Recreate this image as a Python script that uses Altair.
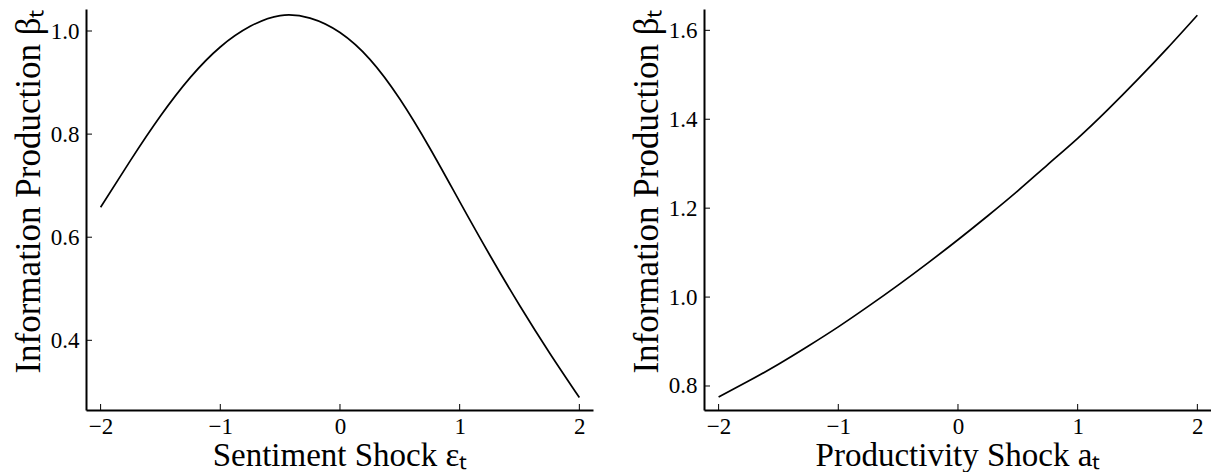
import altair as alt
import pandas as pd

# Shock grid (x values)
shock = [-2.0, -1.75, -1.5, -1.25, -1.0, -0.75, -0.5, -0.25, 0.0,
         0.25, 0.5, 0.75, 1.0, 1.25, 1.5, 1.75, 2.0]

# Left panel: information production vs sentiment shock
beta_sentiment = [0.658, 0.749, 0.835, 0.910, 0.969, 1.009, 1.030, 1.025, 0.997,
                  0.945, 0.868, 0.773, 0.669, 0.566, 0.468, 0.376, 0.289]

# Right panel: information production vs productivity shock
beta_productivity = [0.775, 0.811, 0.849, 0.890, 0.933, 0.979, 1.027, 1.077, 1.129,
                     1.183, 1.239, 1.298, 1.357, 1.421, 1.489, 1.560, 1.634]

x_ticks = [-2, -1, 0, 1, 2]
y_ticks_left = [0.4, 0.6, 0.8, 1.0]
y_ticks_right = [0.8, 1.0, 1.2, 1.4, 1.6]

W, H = 507, 401
FONT = "Liberation Serif"
Y_TITLE = "Information Production βₜ"


def panel(yvals, xtitle, ydomain, yticks):
    df = pd.DataFrame({"x": shock, "y": yvals})
    xs = alt.Scale(domain=[-2.122, 2.114], nice=False, zero=False)
    ys = alt.Scale(domain=ydomain, nice=False, zero=False)
    x_axis = alt.Axis(title=xtitle, values=x_ticks, format="d",
                      labelPadding=5, titlePadding=1, titleFontSize=33)
    y_axis = alt.Axis(title=Y_TITLE, values=yticks, format=".1f",
                      labelPadding=7, titlePadding=4, titleFontSize=35,
                      titleAnchor="end")
    line = alt.Chart(df).mark_line(
        color="black", strokeWidth=1.7, interpolate="natural"
    ).encode(
        x=alt.X("x:Q", scale=xs, axis=x_axis),
        y=alt.Y("y:Q", scale=ys, axis=y_axis),
    )
    xt = alt.Chart(pd.DataFrame({"x": x_ticks})).mark_rule(
        color="black", strokeWidth=1
    ).encode(
        x=alt.X("x:Q", scale=xs, axis=x_axis),
        y=alt.value(H),
        y2=alt.value(H - 6),
    )
    yt = alt.Chart(pd.DataFrame({"y": yticks})).mark_rule(
        color="black", strokeWidth=1
    ).encode(
        y=alt.Y("y:Q", scale=ys, axis=y_axis),
        x=alt.value(0),
        x2=alt.value(6),
    )
    return alt.layer(line, xt, yt).properties(width=W, height=H)


left = panel(beta_sentiment, "Sentiment Shock εₜ", [0.2648, 1.0427], y_ticks_left)
right = panel(beta_productivity, "Productivity Shock aₜ", [0.746, 1.648], y_ticks_right)

chart = alt.hconcat(left, right, spacing=36).properties(
    padding={"left": 3, "top": 0, "right": 0, "bottom": 0}
).configure_view(
    stroke=None
).configure_axis(
    grid=False,
    ticks=False,
    tickSize=0,
    domainColor="black",
    domainWidth=2,
    labelFont=FONT,
    labelFontSize=23,
    labelColor="black",
    titleFont=FONT,
    titleFontWeight="normal",
    titleColor="black",
)

chart.save("out.html", embed_options={"renderer": "svg", "actions": False})
